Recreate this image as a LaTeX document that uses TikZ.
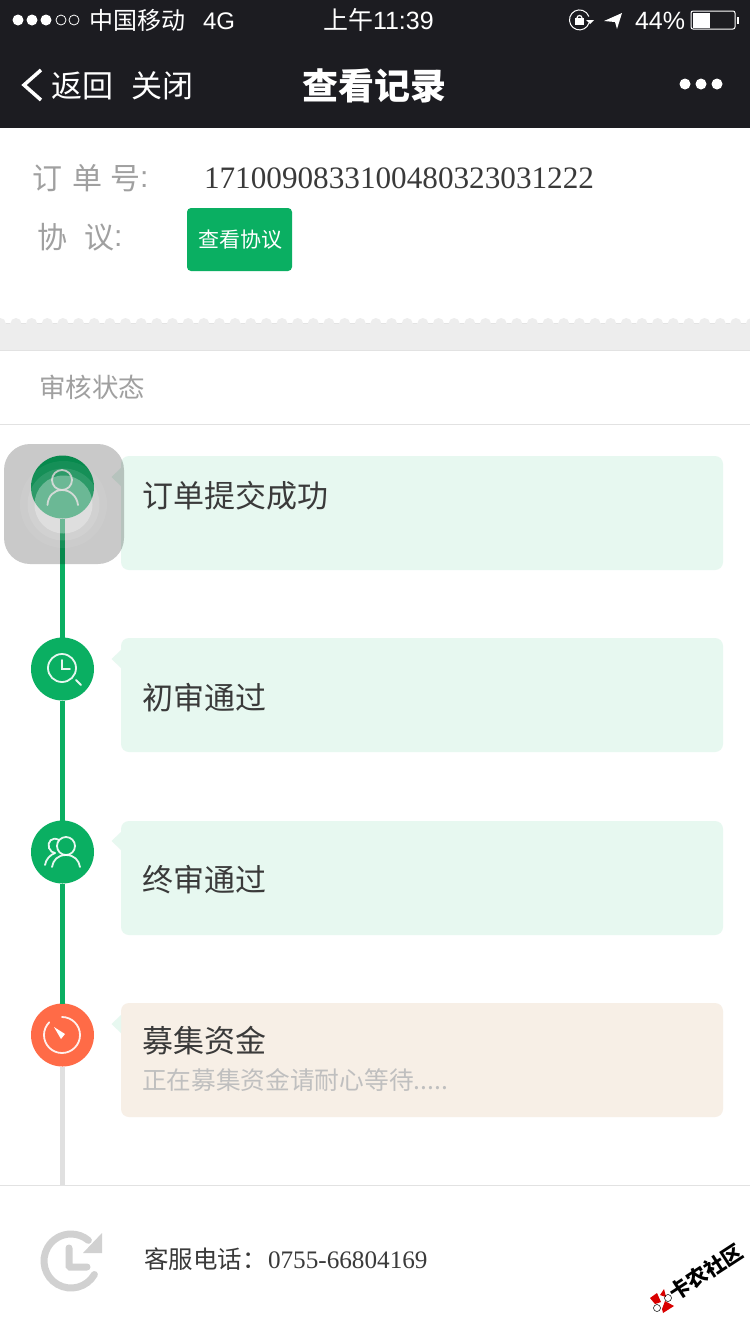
\documentclass[tikz,border=0pt]{standalone}
\usepackage{fontspec}
\setmainfont{Noto Sans CJK SC}
\newfontfamily\barfont{Liberation Sans}
\newfontfamily\numfont{Liberation Serif}
\newcommand{\fsz}[1]{\fontsize{#1}{#1}\selectfont}
\definecolor{navdark}{HTML}{1C1C21}
\definecolor{railgreen}{HTML}{0AAF62}
\definecolor{railgray}{HTML}{E0E0E0}
\definecolor{timerorange}{HTML}{FF6B47}
\definecolor{cardmint}{HTML}{E7F8F0}
\definecolor{cardpeach}{HTML}{F7EFE6}
\definecolor{inktext}{HTML}{3A3A3A}
\definecolor{softtext}{HTML}{A0A0A0}
\definecolor{ruleline}{HTML}{E2E2E2}
\tikzset{
	txt/.style = {inner sep=0pt, outer sep=0pt, anchor=base west},
	navtxt/.style = {txt, white},
	rowtxt/.style = {txt, inktext, font=\fsz{31}},
	softtxt/.style = {txt, softtext},
	stepdot/.style = {circle, minimum size=63pt, inner sep=0pt, outer sep=0pt, fill=railgreen},
	card/.style = {fill=cardmint, rounded corners=8pt},
	tail/.style = {fill=cardmint},
	rail/.style = {line width=5pt, railgreen},
	rule/.style = {ruleline, line width=1pt},
	glyph/.style = {white, line width=1.8pt, opacity=.9, line cap=round},
	refresh/.style = {black!18, line width=7pt, line cap=round}
}
\begin{document}
\begin{tikzpicture}[x=1pt, y=-1pt]
	\useasboundingbox (0,0) rectangle (750,1334);
	\fill[white] (0,0) rectangle (750,1334);

	% top bars
	\fill[navdark] (0,0) rectangle (750,128);
	\foreach \x in {18,32,46} \fill[white] (\x,20) circle (5.5);
	\foreach \x in {61,74} \draw[white, line width=.8pt] (\x,20) circle (5);
	\node[navtxt, font=\fsz{24}] (carrier) at (89,29) {中国移动};
	\node[navtxt, font=\fsz{24}\barfont] (network) at (203,29) {4G};
	\node[navtxt, font=\fsz{25}] (clock) at (323,29) {上午\barfont 11:39};
	\node[navtxt, font=\fsz{25}\barfont] (percent) at (635,29) {44\%};
	\draw[white, line width=1pt] (589,23) arc[start angle=18, end angle=340, radius=10];
	\fill[white] (586,20) -- (594,20) -- (590,24) -- cycle;
	\fill[white] (575,18) rectangle (584,25);
	\draw[white, line width=1.2pt] (577,18) arc[start angle=180, end angle=360, radius=2.5];
	\fill[white] (622,13) -- (604,21) -- (615,22) -- (617,29) -- cycle;
	\draw[white, line width=1pt, rounded corners=2pt] (691,11) rectangle (735,29);
	\fill[white] (692.5,12.5) rectangle (710,27.5);
	\fill[white] (736.5,17) rectangle (739,24);
	\draw[white, line width=3.5pt] (41,70) -- (24,85) -- (41,100);
	\node[navtxt, font=\fsz{31}] (back) at (51,97) {返回};
	\node[navtxt, font=\fsz{31}] (shut) at (131,97) {关闭};
	\node[navtxt, font=\fsz{36}\bfseries] (title) at (302,99) {查看记录};
	\foreach \x in {685,701,717} \fill[white] (\x,84) circle (5.5);

	% order info
	\foreach \x/\ch in {32/订,72/单,110/号} \node[softtxt, font=\fsz{30}] (order\ch) at (\x,189) {\ch};
	\node[softtxt, font=\fsz{30}\barfont] (ordercolon) at (140,187) {:};
	\node[txt, inktext, font=\fsz{31.2}\numfont] (orderno) at (204,188) {1710090833100480323031222};
	\node[softtxt, font=\fsz{30}] (dealA) at (37,248) {协};
	\node[softtxt, font=\fsz{30}] (dealB) at (84,248) {议};
	\node[softtxt, font=\fsz{30}\barfont] (dealcolon) at (114,246) {:};
	\fill[railgreen, rounded corners=4pt] (187,208) rectangle (292,271);
	\node[navtxt, font=\fsz{21}] (dealbtn) at (198,247) {查看协议};

	% torn edge
	\fill[black!7] (0,323) rectangle (750,350);
	\foreach \x in {0,...,48} {
		\fill[black!7] ({-5.2+15.65*\x},323.5) arc[start angle=180, end angle=360, radius=5.5];
		\draw[black!11, line width=.7pt] ({5.8+15.65*\x},323.5) -- ({10.45+15.65*\x},323.5);
	}
	\draw[rule] (0,350.5) -- (750,350.5);
	\node[softtxt, font=\fsz{26.5}] (statushead) at (39,397) {审核状态};
	\draw[rule] (0,424.5) -- (750,424.5);

	% cards
	\foreach \top in {456,638,821} \fill[card] (121,\top) rectangle (723,\top+114);
	\fill[card, fill=cardpeach] (121,1003) rectangle (723,1117);
	\foreach \top in {477,659,841,1024} \fill[tail] (111.5,\top) -- (121,\top-9) -- (121,\top+9) -- cycle;

	\node[rowtxt] (rowA) at (142,507) {订单提交成功};
	\node[rowtxt] (rowB) at (142,709) {初审通过};
	\node[rowtxt] (rowC) at (142,891) {终审通过};
	\node[rowtxt] (rowD) at (142,1052) {募集资金};
	\node[txt, black!25, font=\fsz{24.7}] (rowDsub) at (142,1089) {正在募集资金请耐心等待.....};

	% timeline
	\node[stepdot] (dotA) at (62.5,487) {};
	\node[stepdot] (dotB) at (62.5,669) {};
	\node[stepdot] (dotC) at (62.5,852) {};
	\node[stepdot, fill=timerorange] (dotD) at (62.5,1035) {};
	\coordinate (railend) at (62.5,1185);
	\draw[rail] (dotA) -- (dotB);
	\draw[rail] (dotB) -- (dotC);
	\draw[rail] (dotC) -- (dotD);
	\draw[rail, railgray] (dotD) -- (railend);

	% icons
	\draw[glyph] (62,480) circle (10);
	\draw[glyph] (47.5,505) .. controls (48,496) and (54,490) .. (62,490) .. controls (70,490) and (77,496) .. (78,505);
	\draw[glyph] (62,668) circle (14);
	\draw[glyph] (62,660) -- (62,669) -- (70,669);
	\draw[glyph] (76,680) -- (81,685);
	\draw[glyph] (66,846) circle (9);
	\draw[glyph] (52,867) .. controls (53,860) and (58,855) .. (66,855) .. controls (74,855) and (79,860) .. (80,867);
	\draw[glyph] (59,840) .. controls (52,836) and (47,842) .. (49,848) .. controls (50,851) and (53,853) .. (55,853);
	\draw[glyph] (45,865) .. controls (46,859) and (50,855) .. (55,853);
	\draw[glyph] (62,1017) arc[start angle=-90, end angle=225, radius=18];
	\fill[white] (54,1027) -- (65,1034) -- (61,1039) -- cycle;

	% footer
	\fill[white] (0,1185) rectangle (750,1334);
	\draw[rule] (0,1185.5) -- (750,1185.5);
	\draw[refresh] (94.4,1274.5) arc[start angle=30, end angle=310, radius=27];
	\fill[black!18] (102,1233) -- (102,1253) -- (83,1253) -- cycle;
	\draw[refresh, rounded corners=1pt] (69,1248) -- (69,1267) -- (87,1267);
	\node[txt, inktext, font=\fsz{24.5}] (hotline) at (144,1268) {客服电话：};
	\node[txt, inktext, font=\fsz{25.2}\numfont] (hotno) at (268,1268) {0755-66804169};

	% watermark
	\node[inner sep=0pt, rotate=33, font=\fsz{20.7}\bfseries] (stamp) at (706,1272) {卡农社区};
	\fill[red!85!black] (650,1298) -- (657,1293) -- (661,1302) -- (655,1304) -- cycle;
	\fill[red!85!black] (660,1295) -- (664,1289) -- (666,1297) -- cycle;
	\fill[red!85!black] (662,1309) -- (665,1301) -- (674,1306) -- (663,1313) -- cycle;
	\draw[black, line width=.5pt] (668,1298) circle (3.5);
	\draw[black, line width=.5pt] (657,1308) circle (3.5);

	% tap overlay
	\fill[black, opacity=.21, rounded corners=26pt] (4,444) rectangle (124,564);
	\foreach \r/\op in {43.5/.06,36/.1,29/.3} \fill[white, opacity=\op] (63.5,504.5) circle (\r);
\end{tikzpicture}
\end{document}
